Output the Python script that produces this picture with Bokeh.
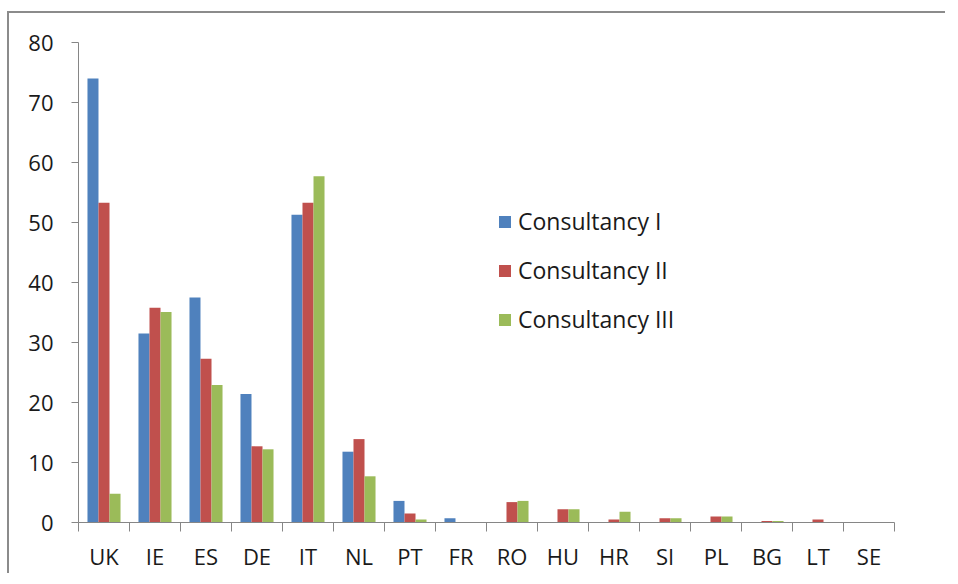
from bokeh.plotting import figure
from bokeh.models import FixedTicker, Legend, LegendItem, Range1d, ColumnDataSource
from bokeh.embed import file_html
from bokeh.resources import INLINE

countries = ["UK", "IE", "ES", "DE", "IT", "NL", "PT", "FR", "RO", "HU", "HR", "SI", "PL", "BG", "LT", "SE"]
consultancy_1 = [74.0, 31.5, 37.5, 21.4, 51.3, 11.8, 3.6, 0.7, 0, 0, 0, 0, 0, 0, 0, 0]
consultancy_2 = [53.3, 35.8, 27.3, 12.7, 53.3, 13.9, 1.5, 0, 3.4, 2.2, 0.5, 0.7, 1.0, 0.25, 0.5, 0]
consultancy_3 = [4.8, 35.1, 22.9, 12.2, 57.7, 7.7, 0.5, 0, 3.6, 2.2, 1.8, 0.7, 1.0, 0.25, 0, 0]
series_names = ["Consultancy I", "Consultancy II", "Consultancy III"]
series_values = [consultancy_1, consultancy_2, consultancy_3]
colors = ["#4F81BD", "#C0504D", "#9BBB59"]
y_ticks = [0, 10, 20, 30, 40, 50, 60, 70, 80]

FONT = "Open Sans"
AXIS_COLOR = "#868686"
TEXT_COLOR = "#1a1a1a"

n = len(countries)
bar_w = 0.216
offsets = [-bar_w, 0.0, bar_w]

p = figure(width=938, height=562, output_backend="svg", toolbar_location=None,
           x_range=Range1d(0, n), y_range=Range1d(0, 80),
           min_border=0, min_border_left=69, min_border_right=53,
           min_border_top=29, min_border_bottom=53)
p.styles = {"margin-left": "7px", "margin-top": "11px",
            "border-top": "2px solid #8b8b8b", "border-left": "2px solid #8b8b8b"}

renderers = []
for name, vals, col, off in zip(series_names, series_values, colors, offsets):
    src = ColumnDataSource(dict(x=[i + 0.5 + off for i in range(n)], top=vals))
    r = p.vbar(x="x", top="top", width=bar_w, bottom=0, source=src,
               fill_color=col, line_color=None)
    renderers.append(r)

p.xgrid.visible = False
p.ygrid.visible = False
p.outline_line_color = None
p.background_fill_color = "white"
p.border_fill_color = "white"

xa = p.xaxis[0]
xa.ticker = FixedTicker(ticks=[i + 0.5 for i in range(n)], minor_ticks=list(range(n + 1)))
xa.major_label_overrides = {i + 0.5: c for i, c in enumerate(countries)}
xa.major_tick_line_color = None
xa.minor_tick_line_color = AXIS_COLOR
xa.minor_tick_in = 0
xa.minor_tick_out = 9
xa.axis_line_color = AXIS_COLOR
xa.major_label_text_font = FONT
xa.major_label_text_font_size = "22px"
xa.major_label_text_color = TEXT_COLOR
xa.major_label_standoff = 9

ya = p.yaxis[0]
ya.ticker = FixedTicker(ticks=y_ticks, minor_ticks=[])
ya.major_tick_line_color = AXIS_COLOR
ya.major_tick_in = 0
ya.major_tick_out = 7
ya.minor_tick_line_color = None
ya.axis_line_color = AXIS_COLOR
ya.major_label_text_font = FONT
ya.major_label_text_font_size = "22px"
ya.major_label_text_color = TEXT_COLOR
ya.major_label_standoff = 18

legend = Legend(items=[LegendItem(label=nm, renderers=[r]) for nm, r in zip(series_names, renderers)],
                location=(419, 187), orientation="vertical",
                glyph_width=15, glyph_height=15, label_standoff=6,
                label_height=22, spacing=17, padding=0, margin=0,
                label_text_font=FONT, label_text_font_size="23px", label_text_color=TEXT_COLOR,
                border_line_color=None, background_fill_alpha=0)
p.add_layout(legend, "center")

open("out.html", "w").write(file_html(p, INLINE))
